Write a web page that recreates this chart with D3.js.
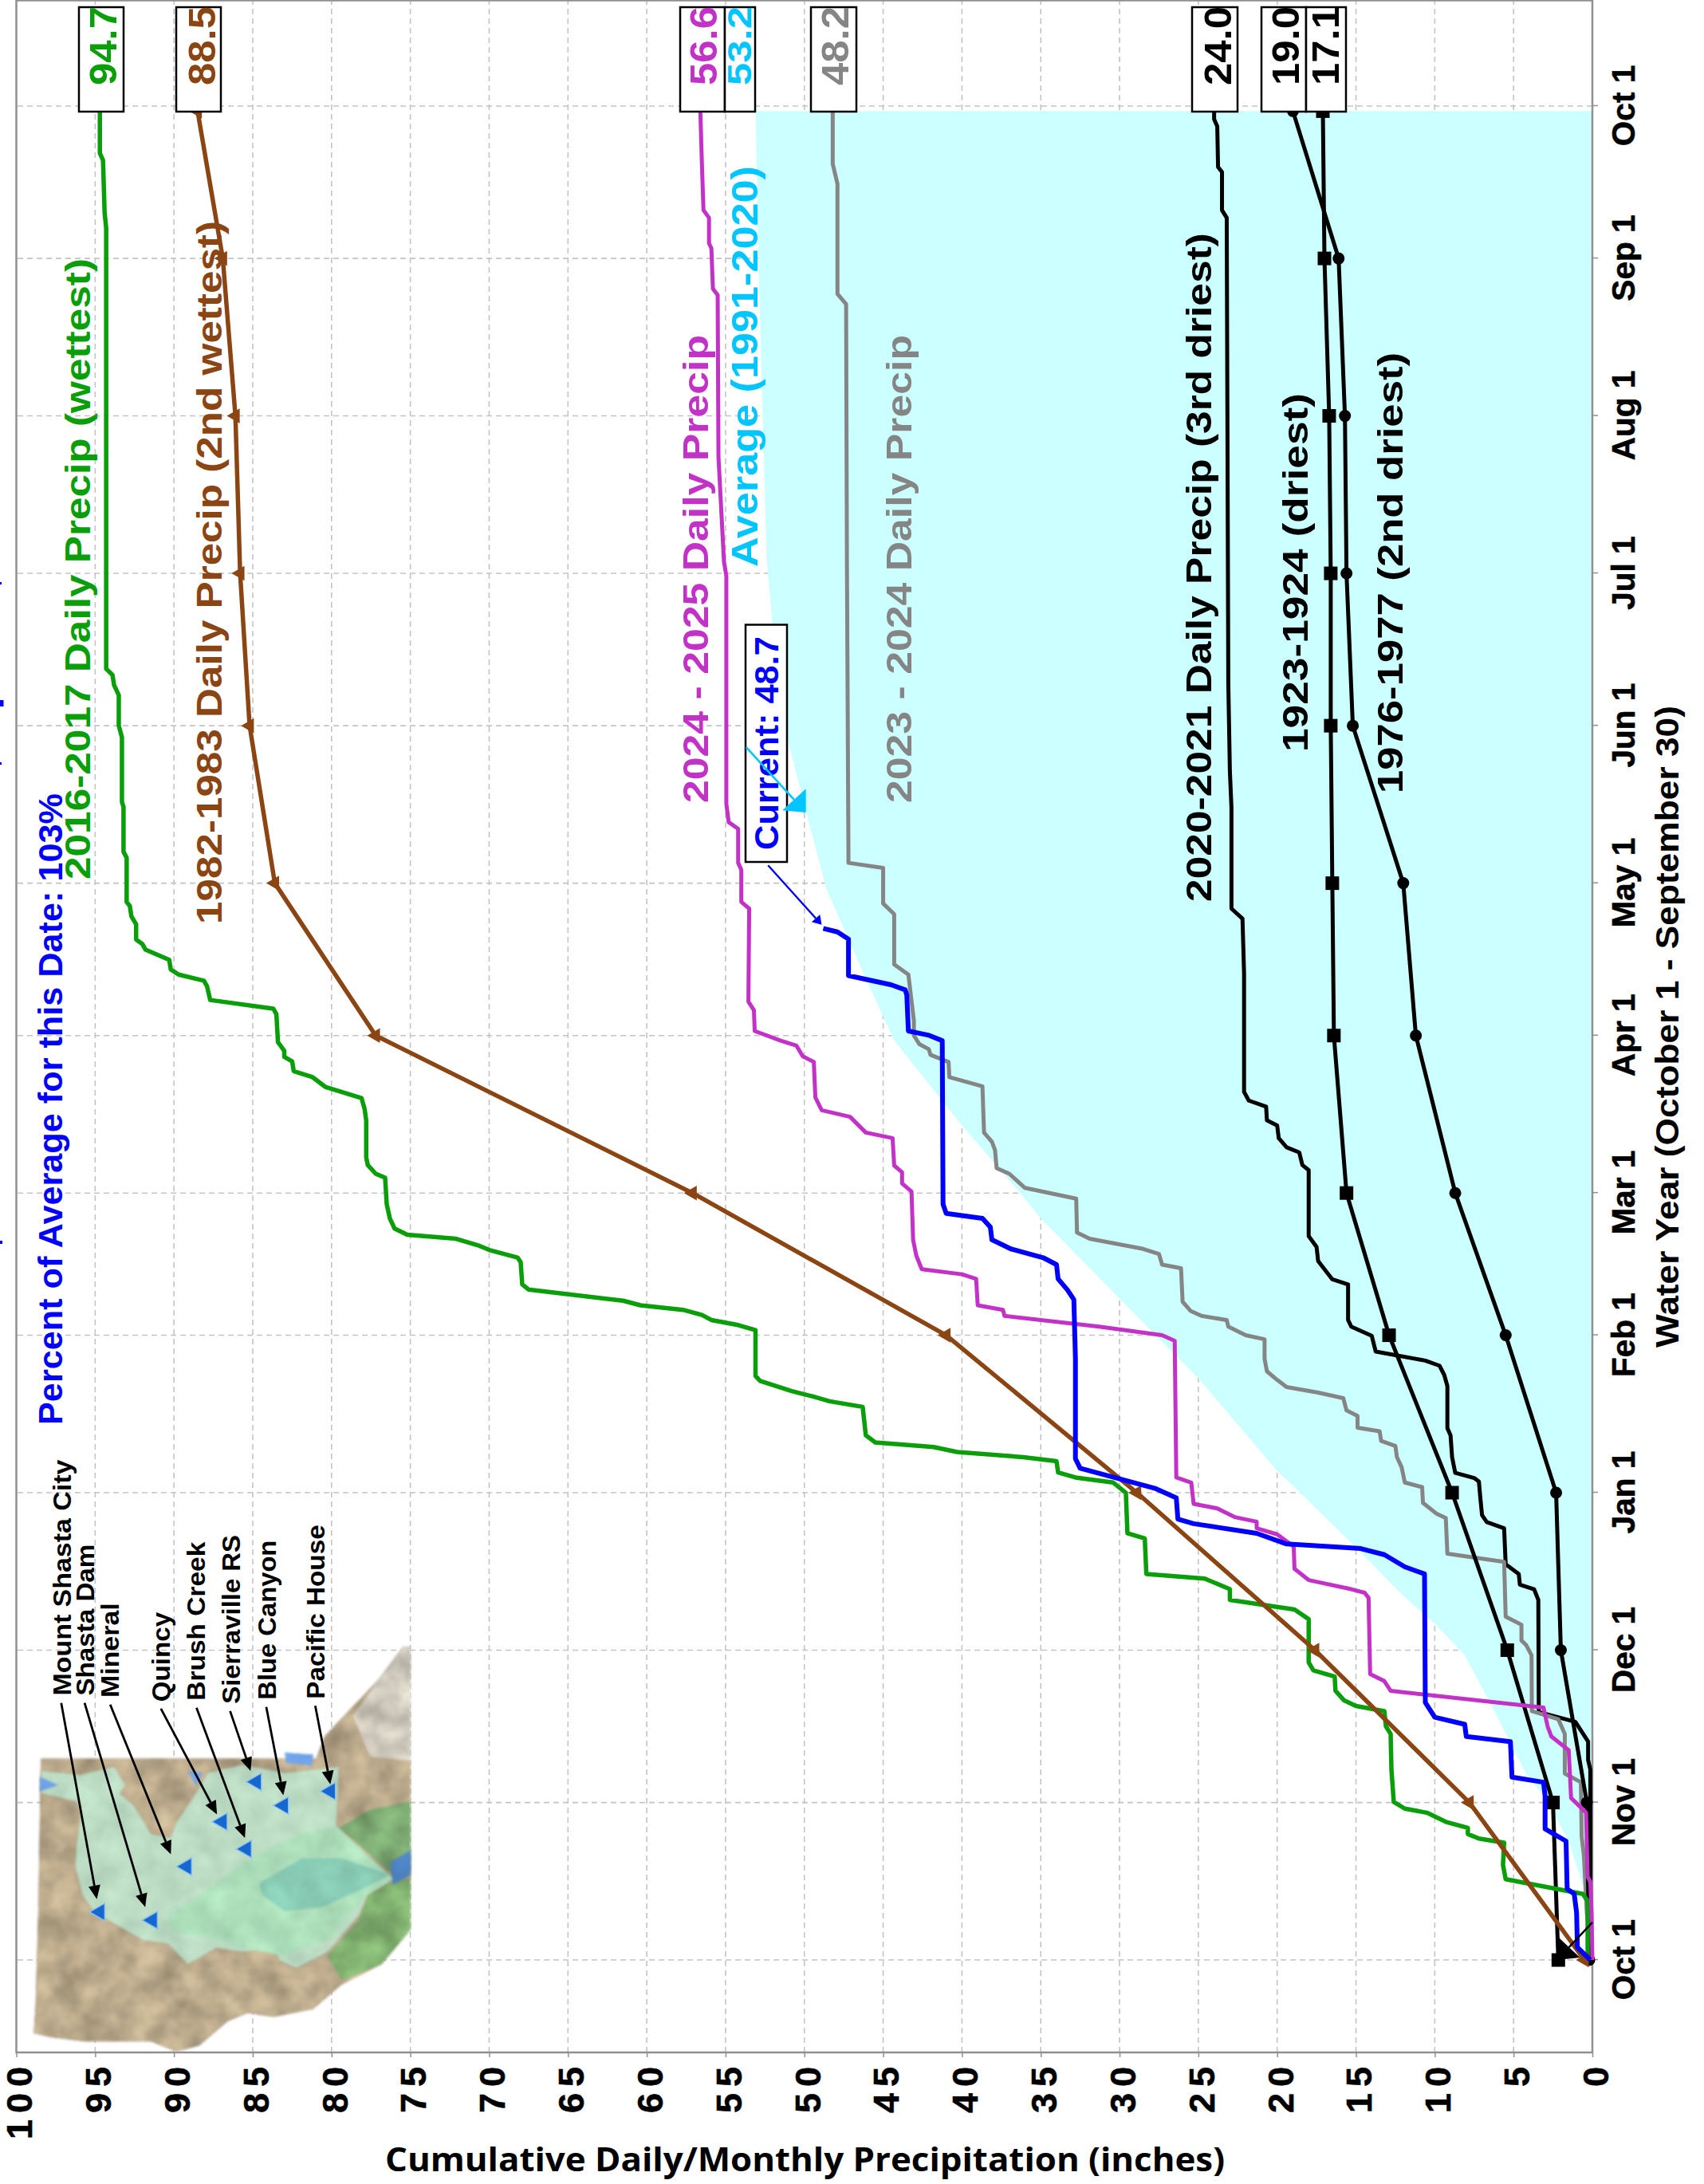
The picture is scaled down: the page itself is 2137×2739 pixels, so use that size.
<!DOCTYPE html>
<html>
<head>
<meta charset="utf-8">
<script src="https://cdn.jsdelivr.net/npm/d3@7"></script>
<style>
  html, body { margin: 0; padding: 0; background: #fff; }
  svg { display: block; }
  text { font-family: "Liberation Sans", Arial, sans-serif; font-weight: bold; }
</style>
</head>
<body>
<div id="chart"></div>
<script>
// water year days since Oct 1, inches
var monthDays = [0, 31, 61, 92, 123, 151, 182, 212, 243, 273, 304, 335, 365];
var monthLabels = ["Oct 1", "Nov 1", "Dec 1", "Jan 1", "Feb 1", "Mar 1", "Apr 1", "May 1", "Jun 1", "Jul 1", "Aug 1", "Sep 1", "Oct 1"];
var inchTicks = [0, 5, 10, 15, 20, 25, 30, 35, 40, 45, 50, 55, 60, 65, 70, 75, 80, 85, 90, 95, 100];

var average = [[0,0],[14,0.54],[23.4,1.5],[32,3],[36.6,4.2],[50.7,6.5],[60,8.1],[66.2,10],[72,12.1],[81.2,15],[91.9,18.5],[96.3,20],
  [114.5,25],[123.6,27.9],[146,35],[151,36.3],[164.3,40],[181,44.3],[191.9,45.9],[210.8,48.6],[226.2,49.9],
  [239.5,51],[262,52],[276,52.4],[333,52.9],[364,53.1]];

var precip2017 = [[0,0.3],[11.6,0.3],[13,0.6],[15.9,5.5],[18.7,5.67],[23.1,5.6],[23.9,7.2],[24.8,7.9],[26,7.9],[27.2,9.3],[29,10.5],[29.8,11.9],
  [31.1,12.6],[37.5,12.75],[44.5,12.8],[46,13.1],[49,13.2],[50,15],[51.1,15.75],[53,16.3],[55.8,16.35],[57,17.7],[58.6,18],[67.1,18],
  [69,18.9],[70.9,23],[73,23],[75.1,24.6],[76,28.3],[83,28.4],[84,29.5],[92,29.6],[94,30.4],[95,32.8],[96,33.9],[98.2,34],[99,36.1],
  [100,40.3],[101,41.8],[101.9,45.5],[103.3,46.1],[108.9,46.3],[110,48.4],[110.9,49.4],[112,50.8],[114,52.8],[115,53.1],[124,53.1],
  [125,54.2],[126,55.9],[127,56.5],[128,57.7],[128.9,60.4],[129.8,61.5],[132,67.5],[133,67.9],[137.4,68],[138.3,68.2],[139.8,70],
  [140.7,70.7],[142,72.1],[142.8,75.2],[144,76],[146,76.3],[148.8,76.5],[154,76.6],[154.8,77.2],[156.5,77.7],[158,77.8],[165.3,77.8],
  [167.5,77.9],[169.7,78.1],[171.9,80.4],[173.8,81.2],[175,82.4],[176.9,82.5],[177.8,83],[179,83],[180.7,83.4],[186.2,83.5],[187.3,83.7],
  [189,87.7],[191.7,87.9],[192.8,88.1],[194,89.7],[195,90.2],[196.9,90.3],[198.9,91.8],[200,92],[200.9,92.4],[203.9,92.4],[205.5,92.7],
  [207.5,92.8],[208.3,93],[217,93],[218.2,93.2],[227,93.2],[228,93.3],[240.7,93.3],[243,93.5],[249,93.5],[251,93.8],[253,93.9],[254.2,94.3],
  [276,94.3],[341,94.3],[344,94.4],[354.3,94.5],[355.7,94.7],[364,94.7]];

var precip1983 = [[0,0.5],[31,7.8],[61,17.6],[92,28.9],[123,41],[151,57.1],[182,77.2],[212,83.6],[243,85.2],[273,85.8],[304,86.1],[335,86.9],[364,88.5]];
var precip1924 = [[0,2.16],[31,2.5],[61,5.4],[92,8.9],[123,12.9],[151,15.6],[182,16.4],[212,16.5],[243,16.6],[273,16.6],[304,16.7],[335,17],[364,17.1]];
var precip1977 = [[0,0.2],[31,0.35],[61,2],[92,2.3],[123,5.5],[151,8.7],[182,11.2],[212,12],[243,15.2],[273,15.6],[304,15.7],[335,16.1],[364,19]];

var precip2021 = [[0,0],[2,0.13],[37.5,0.13],[39.4,0.27],[43,0.27],[46.9,1.08],[48.8,3.4],[70.9,3.43],[73,3.7],[73.9,4.6],[76,4.67],[77.9,5.5],
  [85,5.6],[86.2,6.7],[87.6,7],[90.7,7.1],[94.2,7.2],[94.9,7.5],[95.9,8.7],[99,8.9],[103.3,9],[104.7,9.2],[113,9.2],[115.2,9.4],[117,9.7],
  [118,10.6],[119.8,13.75],[122.9,14],[124.7,15.3],[126,15.5],[133,15.5],[134,16.5],[137.6,17.4],[140.4,17.5],[142.5,18],[155.5,18],
  [156.5,18.4],[159,18.6],[160,19.4],[161.8,19.9],[164.3,20],[165.3,20.65],[168,20.7],[169.2,21.8],[170.9,22.1],[194.3,22.1],[205,22.2],
  [207,22.9],[226.9,22.9],[234,23],[251.4,23.1],[343,23.2],[344.5,23.5],[352,23.5],[353,23.75],[361,23.8],[362.4,24],[364,24]];

var precip2024 = [[0,0],[2,0.13],[9.3,0.35],[20.6,0.54],[24.3,0.68],[35,0.73],[36.7,1.75],[44.5,1.75],[47.4,2.16],[49,3.84],[60,3.86],[62,4.2],
  [62.9,4.5],[66,4.5],[67.6,5.5],[78.4,5.6],[80,9.2],[87,9.3],[87.9,9.9],[90,10.75],[93.1,10.8],[94,11.9],[97,12.1],[99,12.4],[101.2,12.5],
  [102.2,13.4],[104.1,13.5],[104.8,14.9],[107.1,14.9],[108.2,15.6],[110.6,15.8],[111.7,17.4],[112.8,19.4],[114.2,20],[115.9,20.65],[118.4,20.8],
  [122.2,20.8],[123,22],[124.7,23.1],[126,23.2],[126.8,24.8],[127.8,25.5],[129.6,26],[136.2,26.1],[136.9,27.3],[139,27.5],[140,28.5],[142,31.9],
  [143.2,32.7],[149.9,32.75],[152,36],[154.8,37],[155.9,37.8],[159.4,37.9],[161.1,38.1],[162.9,38.6],[172,38.7],[173.8,40.8],[176.8,40.85],
  [178.2,42],[179.3,42.1],[180.3,42.7],[182,43.05],[184.9,43.05],[194,43.4],[196,44.3],[205.9,44.3],[208,45],[215,45],[216,47.2],[276,47.3],
  [326,47.35],[328,47.9],[349.7,47.9],[353.6,48.2],[364,48.2]];

var precip2025 = [[0,0],[9.3,0.05],[15.4,0.13],[16.4,0.3],[29,0.4],[31.9,1.35],[41.3,1.5],[44,2.6],[46,2.84],[49.7,3.1],[53,12.8],[54.9,13.2],
  [56.3,14.1],[71.3,14.2],[72.3,14.45],[73,15.3],[74.8,18],[77,18.9],[81.4,18.95],[83.8,20],[85,21.3],[86.3,21.3],[87.2,22.7],[88.9,23.8],
  [89.8,25.3],[94,25.45],[95,26.4],[121.9,26.5],[123,27.3],[124.7,31.3],[126.8,37.3],[128,37.4],[128.9,39],[134.1,39.1],[135,40],[136,42.55],
  [138.7,42.9],[141.8,43.1],[151.3,43.2],[152.9,43.8],[155.1,43.8],[156.4,44.3],[161.8,44.4],[162.9,46.1],[166,47.1],[167.3,48.9],[169.8,49.3],
  [176.8,49.4],[177.9,50.1],[180,50.5],[181,51.5],[182.9,53.15],[187,53.2],[188.7,53.55],[207,53.5],[208.3,54],[214.6,54],[216,54.2],[222.7,54.2],
  [224,54.8],[227.6,54.95],[272.5,54.95],[275.3,55.1],[296,55.45],[327.8,55.5],[329,55.8],[337,55.9],[338,56.05],[343,56.05],[344.5,56.4],
  [353.6,56.5],[364,56.6]];

var current = [[0,0.13],[2.5,0.95],[9.3,1],[13,1.15],[14,1.6],[23.4,1.67],[25.8,3],[32.3,3],[35,3.1],[36,5.1],[43,5.2],[44,8],[46.4,8.1],[47.8,10],
  [50.7,10.6],[76,10.65],[77.4,11.9],[79.8,13.2],[81,14.7],[81.9,19.4],[84,21.3],[85.9,25.3],[86.8,26.3],[91,26.4],[92.8,27.7],[96.8,32.5],
  [98.7,32.8],[118.4,32.8],[130,32.9],[131.9,33.3],[134.1,33.9],[136.9,34],[138.2,34.8],[140,36.9],[141.8,38.1],[144.3,38.2],[146,38.7],[147,41],
  [148.8,41.2],[181,41.25],[182.1,42.15],[182.9,43.4],[190,43.5],[191,43.6],[192,44.5],[193.8,47.2],[201,47.2],[202.4,47.9],[203.1,48.8]];

// end of year values in their boxes
var endValues = ["94.7", "88.5", "56.6", "53.2", "48.2", "24.0", "19.0", "17.1"];
var endColors = ["#0a9e0a", "#8b4513", "#c232c6", "#00c5ff", "#858585", "#000", "#000", "#000"];

var stations = ["Mount Shasta City", "Shasta Dam", "Mineral", "Quincy", "Brush Creek", "Sierraville RS", "Blue Canyon", "Pacific House"];

var W = 2137, H = 2739;

var svg = d3.select("#chart").append("svg").attr("width", W).attr("height", H);

// whole chart is landscape, turned on its side
var chart = svg.append("g").attr("transform", "translate(0," + H + ") rotate(-90)");

var x = d3.scaleLinear().domain([-18.2, 385.8]).range([165, 2738.5]);
var y = d3.scaleLinear().domain([0, 100]).range([1997, 20.5]);

var line = d3.line().x(function(d) { return x(d[0]); }).y(function(d) { return y(d[1]); });

// grid
chart.append("g").selectAll("line").data(monthDays).enter().append("line")
  .attr("y1", y.range()[0]).attr("y2", y.range()[1])
  .attr("x1", function(d) { return x(d); }).attr("x2", function(d) { return x(d); })
  .attr("stroke", "#c4c4c4").attr("stroke-width", 1.6).attr("stroke-dasharray", "7,5");
chart.append("g").selectAll("line").data(inchTicks.slice(1, -1)).enter().append("line")
  .attr("x1", x.range()[0]).attr("x2", x.range()[1])
  .attr("y1", function(d) { return y(d); }).attr("y2", function(d) { return y(d); })
  .attr("stroke", "#c4c4c4").attr("stroke-width", 1.6).attr("stroke-dasharray", "7,5");

// average
chart.append("path").datum(average)
  .attr("fill", "#ccffff")
  .attr("d", d3.area().x(function(d) { return x(d[0]); }).y0(y(0)).y1(function(d) { return y(d[1]); }));

// axes
var yAxis = chart.append("g").attr("transform", "translate(" + x.range()[0] + ",0)")
  .call(d3.axisLeft(y).tickValues(inchTicks).tickSize(6).tickPadding(4));
yAxis.select(".domain").remove();
yAxis.selectAll("line").attr("stroke", "#909090").attr("stroke-width", 1.5);
yAxis.selectAll("text").attr("font-size", 45).attr("letter-spacing", 8).attr("dy", "0.43em")
  .attr("fill", "#000").attr("stroke", "#000").attr("stroke-width", 0.6);

var xAxis = chart.append("g").attr("transform", "translate(0," + y.range()[0] + ")")
  .call(d3.axisBottom(x).tickValues(monthDays).tickSize(7).tickFormat(function(d, i) { return monthLabels[i]; }));
xAxis.select(".domain").remove();
xAxis.selectAll("line").attr("stroke", "#909090").attr("stroke-width", 1.5);
xAxis.selectAll("text").attr("font-size", 40.5).attr("dy", 0).attr("y", 53)
  .attr("fill", "#000").attr("stroke", "#000").attr("stroke-width", 0.6);

chart.append("rect")
  .attr("x", x.range()[0]).attr("y", y.range()[1])
  .attr("width", x.range()[1] - x.range()[0]).attr("height", y.range()[0] - y.range()[1])
  .attr("fill", "none").attr("stroke", "#909090").attr("stroke-width", 2.5);

// turned text, given in page pixels: baseline, then start and end going up the page
function sideText(str, base, start, end, size, color) {
  return chart.append("text")
    .attr("x", H - start).attr("y", base)
    .attr("font-size", size).attr("fill", color)
    .attr("textLength", start - end).attr("lengthAdjust", "spacingAndGlyphs")
    .text(str);
}

// basin map, drawn in page pixels
var mapX = d3.scaleLinear().domain([0, 1568]).range([0, 560]);
var mapY = d3.scaleLinear().domain([0, 1568]).range([1800, 2600]);
var mapLine = d3.line().x(function(d) { return mapX(d[0]); }).y(function(d) { return mapY(d[1]); }).curve(d3.curveLinearClosed);

var mapLand = [
  {fill: "#b9a88a", pts: [[143,795],[1110,795],[1140,740],[1330,600],[1415,520],[1442,520],[1442,1215],[1340,1300],[1200,1350],[1100,1410],[960,1430],[870,1420],[800,1440],[700,1500],[620,1515],[530,1490],[300,1490],[180,1480],[118,1470],[125,1400],[135,1150]]},
  {fill: "#cfcabd", pts: [[1240,690],[1330,600],[1415,520],[1442,520],[1442,800],[1300,790]]},
  {fill: "#7aa670", pts: [[1190,965],[1300,920],[1442,900],[1442,1060],[1380,1080]]},
  {fill: "#7fae6e", pts: [[1290,1130],[1360,1100],[1442,1090],[1442,1215],[1340,1300],[1200,1340],[1150,1280],[1260,1190]]}
];
var mapBasin = [
  {fill: "#bcdcc4", pts: [[145,825],[280,835],[400,815],[440,860],[420,880],[470,910],[530,980],[600,990],[620,950],[680,890],[730,830],[850,810],[1000,830],[1190,815],[1180,960],[1230,1000],[1380,1090],[1340,1110],[1290,1130],[1260,1180],[1150,1270],[1040,1310],[980,1290],[970,1260],[850,1270],[760,1260],[660,1300],[590,1250],[500,1240],[400,1200],[330,1170],[290,1130],[265,1060],[270,1000],[285,930],[270,900],[145,880]]},
  {fill: "#addfbb", pts: [[590,1180],[700,1130],[880,1040],[1050,980],[1180,960],[1380,1090],[1290,1130],[1150,1240],[990,1280],[860,1260],[700,1230],[600,1220]]},
  {fill: "#88cbb4", pts: [[910,1100],[1060,1040],[1200,1040],[1370,1080],[1290,1110],[1130,1160],[1000,1170],[920,1130]]},
  {fill: "#4f86c8", pts: [[1370,1050],[1442,1020],[1442,1080],[1380,1105]]},
  {fill: "#6ea2e6", pts: [[140,840],[205,860],[140,875]]},
  {fill: "#6ea2e6", pts: [[1000,780],[1100,785],[1095,812],[1005,805]]},
  {fill: "#6ea2e6", pts: [[660,825],[710,830],[690,862]]}
];
var stationMarks = [[350,1172],[535,1192],[655,1060],[780,950],[865,1017],[900,852],[995,910],[1160,875]];
var stationArrows = [[[215,658],[340,1140]],[[297,658],[510,1160]],[[387,662],[600,1030]],[[565,672],[762,932]],
  [[690,670],[860,990]],[[808,678],[880,825]],[[935,668],[995,885]],[[1107,665],[1160,858]]];

var defs = svg.append("defs");
function mottled(id, k1, k2) {
  var f = defs.append("filter").attr("id", id).attr("color-interpolation-filters", "sRGB")
    .attr("x", "-5%").attr("y", "-5%").attr("width", "110%").attr("height", "110%");
  f.append("feTurbulence").attr("type", "fractalNoise").attr("baseFrequency", 0.03).attr("numOctaves", 3).attr("seed", 7).attr("result", "n");
  f.append("feColorMatrix").attr("in", "n").attr("type", "matrix")
    .attr("values", "1 0 0 0 0  1 0 0 0 0  1 0 0 0 0  0 0 0 0 1").attr("result", "g");
  f.append("feComposite").attr("in", "SourceGraphic").attr("in2", "g").attr("operator", "arithmetic")
    .attr("k1", k1).attr("k2", k2).attr("k3", 0).attr("k4", 0).attr("result", "t");
  f.append("feGaussianBlur").attr("in", "t").attr("stdDeviation", 1.8);
}
mottled("landTex", 0.5, 0.76);
mottled("basinTex", 0.2, 0.9);

var map = svg.append("g");
map.append("g").attr("filter", "url(#landTex)").selectAll("path").data(mapLand).enter().append("path")
  .attr("d", function(d) { return mapLine(d.pts); })
  .attr("fill", function(d) { return d.fill; });
map.append("g").attr("filter", "url(#basinTex)").selectAll("path").data(mapBasin).enter().append("path")
  .attr("d", function(d) { return mapLine(d.pts); })
  .attr("fill", function(d) { return d.fill; });
map.selectAll("path.st").data(stationMarks).enter().append("path").attr("class", "st")
  .attr("transform", function(d) { return "translate(" + mapX(d[0]) + "," + mapY(d[1]) + ") rotate(-90)"; })
  .attr("d", d3.symbol().type(d3.symbolTriangle).size(210))
  .attr("fill", "#1468cf").attr("stroke", "#8fc0ee").attr("stroke-width", 1.5);

// arrow helper in page pixels
function arrow(g, x0, y0, x1, y1, color, width, len, half) {
  var a = Math.atan2(y1 - y0, x1 - x0);
  var bx = x1 - len * Math.cos(a), by = y1 - len * Math.sin(a);
  g.append("line").attr("x1", x0).attr("y1", y0).attr("x2", bx).attr("y2", by)
    .attr("stroke", color).attr("stroke-width", width);
  g.append("polygon").attr("fill", color).attr("points", [
    [x1, y1],
    [bx - half * Math.sin(a), by + half * Math.cos(a)],
    [bx + half * Math.sin(a), by - half * Math.cos(a)]
  ].join(" "));
}
var arrowsG = svg.append("g");
stationArrows.forEach(function(d) {
  arrow(arrowsG, mapX(d[0][0]), mapY(d[0][1]), mapX(d[1][0]), mapY(d[1][1]), "#000", 2.8, 17, 7.5);
});

var stationText = [[248,640,60],[330,640,268],[417,645,412],[595,655,435],[720,652,262],[842,660,245],[968,650,258],[1140,648,220]];
stations.forEach(function(s, i) {
  var t = stationText[i];
  sideText(s, mapX(t[0]), mapY(t[1]), mapY(t[2]), 31, "#000");
});

// series labels
sideText("Percent of Average for this Date: 103%", 78, 1787, 995, 43, "#0000ff");
sideText("2016-2017 Daily Precip (wettest)", 113, 1103, 324, 44, "#0a9e0a");
sideText("1982-1983 Daily Precip (2nd wettest)", 278, 1159, 277, 45, "#8b4513");
sideText("2024 - 2025 Daily Precip", 888, 1007, 420, 45, "#c232c6");
sideText("Average (1991-2020)", 950, 711, 208, 46, "#00c5ff");
sideText("2023 - 2024 Daily Precip", 1143, 1007, 420, 45, "#858585");
sideText("2020-2021 Daily Precip (3rd driest)", 1519, 1131, 292, 45, "#000");
sideText("1923-1924 (driest)", 1640, 943, 493, 45, "#000");
sideText("1976-1977 (2nd driest)", 1759, 995, 442, 45, "#000");
sideText("Water Year (October 1 - September 30)", 2105, 1690, 885, 40, "#000");

svg.append("text").attr("x", 483).attr("y", 2723)
  .attr("font-size", 41).attr("fill", "#000")
  .attr("textLength", 1053).attr("lengthAdjust", "spacingAndGlyphs")
  .style("font-family", "'Open Sans', 'DejaVu Sans', sans-serif")
  .text("Cumulative Daily/Monthly Precipitation (inches)");

// series
var series = [
  {data: precip2021, color: "#000", width: 5},
  {data: precip2024, color: "#858585", width: 5},
  {data: precip1924, color: "#000", width: 5, symbol: d3.symbolSquare, size: 289},
  {data: precip1977, color: "#000", width: 5, symbol: d3.symbolCircle, size: 177},
  {data: precip2017, color: "#0a9e0a", width: 5.5},
  {data: precip1983, color: "#8b4513", width: 5.5, symbol: d3.symbolTriangle, size: 150},
  {data: precip2025, color: "#c232c6", width: 5},
  {data: current, color: "#0000ff", width: 6}
];
series.forEach(function(s) {
  chart.append("path").datum(s.data)
    .attr("fill", "none").attr("stroke", s.color).attr("stroke-width", s.width)
    .attr("stroke-linejoin", "round").attr("d", line);
  if (s.symbol) {
    chart.append("g").selectAll("path").data(s.data).enter().append("path")
      .attr("transform", function(d) { return "translate(" + x(d[0]) + "," + y(d[1]) + ")"; })
      .attr("d", d3.symbol().type(s.symbol).size(s.size))
      .attr("fill", s.color);
  }
});

// end of year boxes
var boxEdges = [[99,155],[221,277],[853,909],[909,947],[1017,1074],[1495,1552],[1582,1638],[1638,1688]];
var boxBase = [146,269.5,899,942,1064,1544,1629,1679];
endValues.forEach(function(v, i) {
  chart.append("rect")
    .attr("x", H - 140).attr("y", boxEdges[i][0])
    .attr("width", 131).attr("height", boxEdges[i][1] - boxEdges[i][0])
    .attr("fill", "#fff").attr("stroke", "#000").attr("stroke-width", 2.5);
});
endValues.forEach(function(v, i) {
  sideText(v, boxBase[i], 107, 8, i == 3 ? 43 : 48, endColors[i]);
});

// current value box
chart.append("rect")
  .attr("x", H - 1081).attr("y", 935).attr("width", 297.5).attr("height", 52)
  .attr("fill", "#fff").attr("stroke", "#000").attr("stroke-width", 2.5);
sideText("Current: 48.7", 976, 1066, 798, 42, "#0000ff");

// pointers, ends given in chart units
var pointers = [
  {from: [238.8, 53.7], to: [225.9, 49.9], color: "#00c5ff", width: 2.6, len: 22, half: 20},
  {from: [215.5, 52.3], to: [203.8, 48.9], color: "#0000ff", width: 2.4, len: 11, half: 7},
  {from: [7.4, 0], to: [0, 2.25], color: "#000", width: 2.4, len: 22, half: 19}
];
pointers.forEach(function(p) {
  arrow(chart, x(p.from[0]), y(p.from[1]), x(p.to[0]), y(p.to[1]), p.color, p.width, p.len, p.half);
});

// bits of the title that fall off the page edge
svg.append("g").selectAll("rect").data([[730, 2, 3], [878, 4.5, 8], [956, 2, 3], [1556, 3, 4]]).enter().append("rect")
  .attr("x", 0).attr("y", function(d) { return d[0]; })
  .attr("width", function(d) { return d[1]; }).attr("height", function(d) { return d[2]; })
  .attr("fill", "#0000ff");
</script>
</body>
</html>
